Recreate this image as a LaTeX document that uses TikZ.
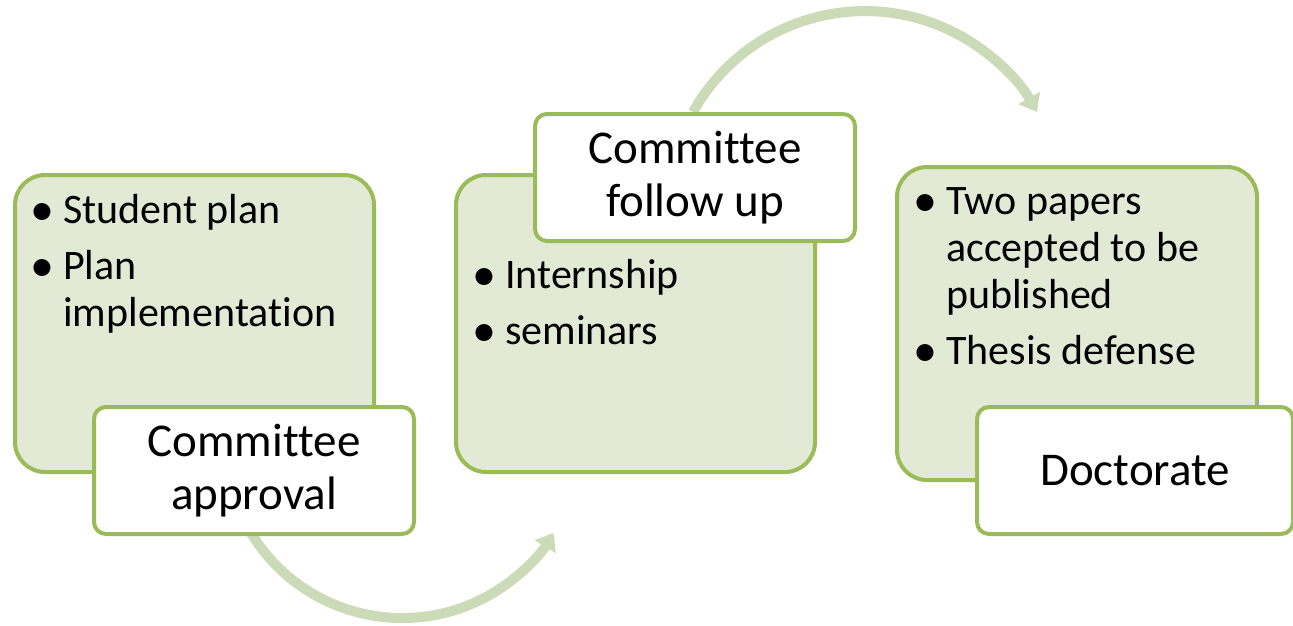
\documentclass[tikz,border=0pt]{standalone}
\usepackage{fontspec}
\setmainfont{Carlito}[Ligatures=NoCommon]
\usetikzlibrary{arrows.meta,calc}
\definecolor{leafgreen}{HTML}{9BBB59}
\definecolor{palegreen}{HTML}{E2EAD6}
\definecolor{arrowgreen}{HTML}{CCDBB7}
\tikzset{stagebox/.style = {draw=leafgreen, fill=palegreen, line width=4pt, rounded corners=30pt,
                            minimum width=359pt, minimum height=297pt, anchor=north west, inner sep=0pt},
         tagbox/.style = {draw=leafgreen, fill=white, line width=4pt, rounded corners=12pt,
                          minimum width=320pt, minimum height=127pt, anchor=north west,
                          align=center, font=\fontsize{47}{53}\selectfont},
         bullets/.style = {anchor=north west, inner sep=0pt, font=\fontsize{42}{47}\selectfont},
         cyclearrow/.style = {draw=arrowgreen, line width=10pt, -{Triangle[width=24pt,length=16pt]}}}
\newcommand{\bitem}[1]{\par\hangindent=33pt\hangafter=1\noindent
  \hbox to 33pt{\raisebox{-2pt}{\fontsize{48}{47}\selectfont\textbullet}\hfil}#1\par}
\newenvironment{bulletlist}{\begin{minipage}[t]{330pt}\setlength{\parskip}{9pt}}{\end{minipage}}

\begin{document}
\begin{tikzpicture}[x=1pt,y=-1pt]
\useasboundingbox (0,0) rectangle (1293,626);
% stage boxes
\node[stagebox] (planbox) at (13,173) {};
\node[stagebox] (reviewbox) at (454,173) {};
\node[stagebox, minimum width=360pt, minimum height=313pt] (degreebox) at (895,165) {};
\node[bullets] (plantext) at ($(planbox.north west)+(17,21)$)
  {\begin{bulletlist}\bitem{Student plan}\bitem{Plan\newline implementation}\end{bulletlist}};
\node[bullets] (reviewtext) at ($(reviewbox.north west)+(18,86)$)
  {\begin{bulletlist}\bitem{Internship}\bitem{seminars}\end{bulletlist}};
\node[bullets] (degreetext) at ($(degreebox.north west)+(18,22)$)
  {\begin{bulletlist}\bitem{Two papers\newline accepted to be\newline published}\bitem{Thesis defense}\end{bulletlist}};
% arrows between stages
\coordinate (approvalfoot) at (251,533);
\coordinate (followtop) at (693,112);
\draw[cyclearrow] (approvalfoot) arc[start angle=148.7, end angle=31.3, radius=177];
\draw[cyclearrow] (followtop) arc[start angle=-150.8, end angle=-29.2, radius=197];
% tags
\node[tagbox] (approval) at (92,405) {Committee\\approval};
\node[tagbox] (followup) at (533,112) {Committee\\follow up};
\node[tagbox, minimum width=316pt] (doctorate) at (975,405) {Doctorate};
\end{tikzpicture}
\end{document}
